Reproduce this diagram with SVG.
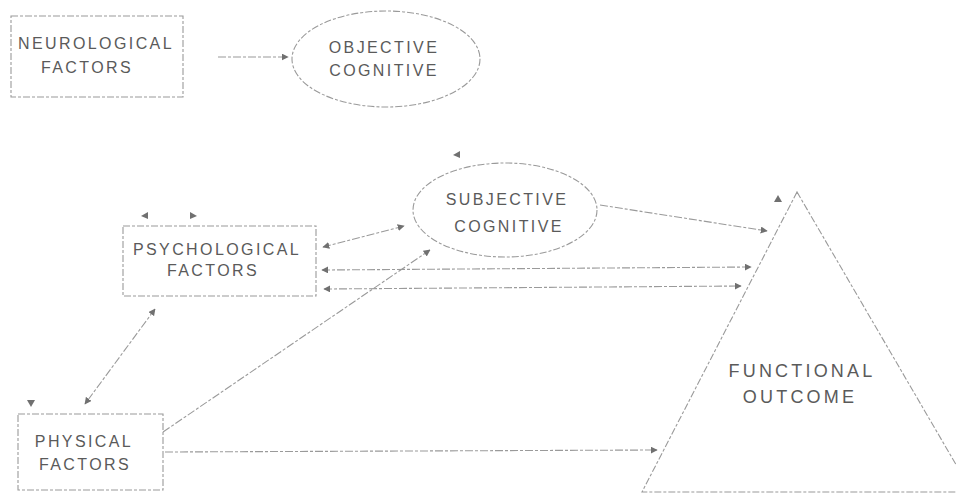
<svg xmlns="http://www.w3.org/2000/svg" width="956" height="494" viewBox="0 0 956 494">
<style>
.bg{fill:#ffffff}
.shape{fill:none;stroke:#9a9a9a;stroke-width:1.1;stroke-dasharray:7 2 3 2}
.lbl{font-family:"Liberation Sans",Arial,sans-serif;font-size:16px;fill:#5a5a5a;letter-spacing:2.4px;text-anchor:middle}
.big{font-size:18px;letter-spacing:3.2px}
.conn{fill:none;stroke:#9a9a9a;stroke-width:1.1;stroke-dasharray:8 2 3 2}
.head{fill:#707070}
</style>
<defs>
<marker id="ah" viewBox="0 0 10 10" refX="9" refY="5" markerWidth="7" markerHeight="7" markerUnits="userSpaceOnUse" orient="auto-start-reverse">
<path d="M0,0 L10,5 L0,10 Z" fill="#707070"/>
</marker>
</defs>
<rect class="bg" x="0" y="0" width="956" height="494"/>

<g id="neurological">
<rect class="shape" x="11" y="16" width="172" height="81"/>
<text class="lbl" x="96" y="49">NEUROLOGICAL</text>
<text class="lbl" x="87" y="73">FACTORS</text>
</g>

<g id="objective">
<ellipse class="shape" cx="386" cy="59" rx="94" ry="48"/>
<text class="lbl" x="384" y="53">OBJECTIVE</text>
<text class="lbl" x="384" y="76">COGNITIVE</text>
</g>

<g id="subjective">
<ellipse class="shape" cx="505" cy="210" rx="92" ry="47"/>
<text class="lbl" x="507" y="205">SUBJECTIVE</text>
<text class="lbl" x="509" y="232">COGNITIVE</text>
</g>

<g id="psychological">
<rect class="shape" x="123" y="226" width="193" height="70"/>
<text class="lbl" x="217" y="255">PSYCHOLOGICAL</text>
<text class="lbl" x="213" y="276">FACTORS</text>
</g>

<g id="physical">
<rect class="shape" x="18" y="414" width="145" height="76"/>
<text class="lbl" x="84" y="447">PHYSICAL</text>
<text class="lbl" x="85" y="470">FACTORS</text>
</g>

<g id="functional">
<polygon class="shape" points="797,192 642,492 972,492"/>
<text class="lbl big" x="802" y="377">FUNCTIONAL</text>
<text class="lbl big" x="800" y="403">OUTCOME</text>
</g>

<g id="connectors">
<line class="conn" x1="218" y1="57" x2="288" y2="57" marker-end="url(#ah)"/>
<line class="conn" x1="323" y1="247" x2="404" y2="226" marker-start="url(#ah)" marker-end="url(#ah)"/>
<line class="conn" x1="600" y1="205" x2="767" y2="231" marker-end="url(#ah)"/>
<line class="conn" x1="322" y1="270" x2="751" y2="267" marker-start="url(#ah)" marker-end="url(#ah)"/>
<line class="conn" x1="324" y1="289" x2="741" y2="286" marker-start="url(#ah)" marker-end="url(#ah)"/>
<line class="conn" x1="163" y1="432" x2="430" y2="250" marker-end="url(#ah)"/>
<line class="conn" x1="165" y1="452" x2="657" y2="450" marker-end="url(#ah)"/>
<line class="conn" x1="155" y1="309" x2="85" y2="404" marker-start="url(#ah)" marker-end="url(#ah)"/>
<path class="head" d="M141,216 L148,212 L148,219 Z"/>
<path class="head" d="M197,216 L190,212 L190,219 Z"/>
<path class="head" d="M453,155 L460,151 L460,158 Z"/>
<path class="head" d="M778,195 L774,202 L782,202 Z"/>
<path class="head" d="M31,407 L27,400 L35,400 Z"/>
</g>
</svg>
